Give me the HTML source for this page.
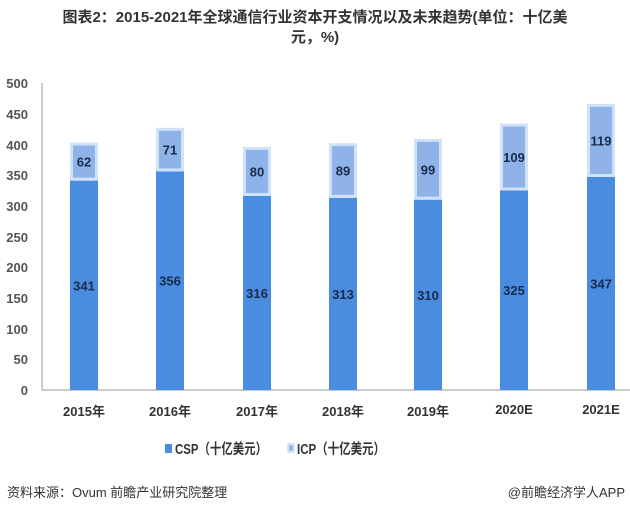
<!DOCTYPE html>
<html><head><meta charset="utf-8"><style>
body{margin:0;width:630px;height:512px;background:#fff;overflow:hidden;font-family:"Liberation Sans","Noto Sans CJK SC",sans-serif;}
</style></head><body>
<svg width="630" height="512" xmlns="http://www.w3.org/2000/svg" style="font-family:'Liberation Sans','Noto Sans CJK SC',sans-serif">
<text x="315" y="22" text-anchor="middle" font-size="15" font-weight="bold" fill="#333">图表2：2015-2021年全球通信行业资本开支情况以及未来趋势(单位：十亿美</text>
<text x="315" y="42" text-anchor="middle" font-size="15" font-weight="bold" fill="#333">元，%)</text>
<g font-size="13" font-weight="bold" fill="#555" text-anchor="end">
<text x="28" y="88">500</text><text x="28" y="119">450</text><text x="28" y="150">400</text>
<text x="28" y="180">350</text><text x="28" y="211">300</text><text x="28" y="242">250</text>
<text x="28" y="272">200</text><text x="28" y="303">150</text><text x="28" y="334">100</text>
<text x="28" y="364">50</text><text x="28" y="395">0</text>
</g>
<line x1="42" y1="83" x2="42" y2="390" stroke="#999"/>
<line x1="42" y1="390" x2="630" y2="390" stroke="#999"/>
<g id="bars"></g>
<g font-size="13" font-weight="bold" fill="#333" text-anchor="middle">
<text x="84" y="416">2015年</text><text x="170" y="416">2016年</text><text x="257" y="416">2017年</text>
<text x="343" y="416">2018年</text><text x="428" y="416">2019年</text><text x="514" y="414">2020E</text><text x="601" y="414">2021E</text>
</g>
<rect x="165" y="444" width="7" height="9" fill="#4a8de0"/>
<text x="175" y="454" font-size="14.5" font-weight="bold" fill="#333" textLength="92" lengthAdjust="spacingAndGlyphs">CSP（十亿美元）</text>
<rect x="288" y="444" width="6" height="8" fill="#9dbcea" stroke="#d3e4f7" stroke-width="2"/>
<text x="297" y="454" font-size="14.5" font-weight="bold" fill="#333" textLength="88" lengthAdjust="spacingAndGlyphs">ICP（十亿美元）</text>
<text x="7" y="497" font-size="13" fill="#333">资料来源：Ovum 前瞻产业研究院整理</text>
<text x="625" y="497" font-size="13" fill="#333" text-anchor="end">@前瞻经济学人APP</text>
</svg>
<script>
var d=[[84,341,62],[170,356,71],[257,316,80],[343,313,89],[428,310,99],[514,325,109],[601,347,119]];
var s=0.614,g=document.getElementById('bars'),h='';
d.forEach(function(b){var x=b[0]-14,c=b[1]*s,i=b[2]*s,cy=390-c,iy=cy-i;
h+='<rect x="'+x+'" y="'+cy+'" width="28" height="'+c+'" fill="#4a8de0"/>';
h+='<rect x="'+(x+1.5)+'" y="'+(iy+1.5)+'" width="25" height="'+(i-3)+'" fill="#8fb2e9" stroke="#cfe2f8" stroke-width="3"/>';
h+='<text x="'+b[0]+'" y="'+(cy+c/2+5)+'" font-size="13" font-weight="bold" fill="#1a2a4a" text-anchor="middle">'+b[1]+'</text>';
h+='<text x="'+b[0]+'" y="'+(iy+i/2+5)+'" font-size="13" font-weight="bold" fill="#1a2a4a" text-anchor="middle">'+b[2]+'</text>';});
g.innerHTML=h;
</script>
</body></html>
